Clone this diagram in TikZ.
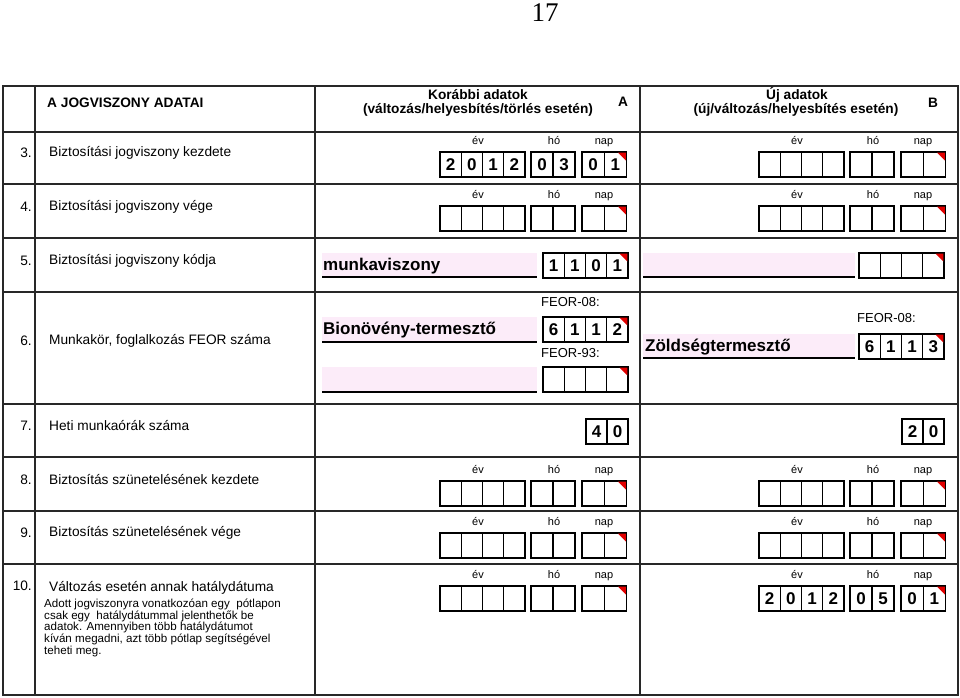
\documentclass[tikz,border=0pt]{standalone}
\usepackage{fontspec}
\setmainfont{Liberation Sans}
\newfontfamily\titleserif{Liberation Serif}
\definecolor{pinkfill}{RGB}{252,236,249}
\definecolor{gridc}{RGB}{40,40,40}
\definecolor{cornerred}{RGB}{225,0,0}
\tikzset{
 tablegrid/.style={draw=gridc, line width=1.6pt},
 cellline/.style={draw=black, line width=1.1pt},
 digit/.style={font=\fontsize{17}{17}\selectfont\bfseries, inner sep=0},
 lbltxt/.style={font=\fontsize{13.7}{14}\selectfont, inner sep=0, anchor=west},
 numtxt/.style={font=\fontsize{13.7}{14}\selectfont, inner sep=0, anchor=east},
 hdrtxt/.style={font=\fontsize{13.7}{14}\selectfont\bfseries, inner sep=0},
 smalltxt/.style={font=\fontsize{11}{11}\selectfont, inner sep=0, anchor=base},
 feortxt/.style={font=\fontsize{13}{13}\selectfont, inner sep=0, anchor=west},
 entrytxt/.style={font=\fontsize{17}{17}\selectfont\bfseries, inner sep=0, anchor=west},
 fieldpink/.style={fill=pinkfill, draw=none},
 fieldline/.style={draw=black, line width=1.5pt},
}
% #1 name prefix, #2 x, #3 top, #4 cell width, #5 digit list
\newcommand{\cellsrow}[5]{%
 \foreach \d [count=\i from 0] in {#5} {
   \draw[cellline] ({#2+\i*#4}, #3) rectangle ++(#4, 25);
   \node[digit] (#1-\i) at ({#2+\i*#4+#4/2}, #3+12.5) {\d};
 }}
% #1 x, #2 top, #3 width, #4 count
\newcommand{\emptycells}[4]{%
 \foreach \i in {1,...,#4} {
   \draw[cellline] ({#1+(\i-1)*#3}, #2) rectangle ++(#3, 25);
 }}
% #1 right x, #2 top y
\newcommand{\redcorner}[2]{\fill[cornerred] (#1-8.5,#2+0.6) -- (#1-0.6,#2+0.6) -- (#1-0.6,#2+8.5) -- cycle;}
% #1 name, #2 x0, #3 top
\newcommand{\datelabels}[3]{%
 \node[smalltxt] (#1-ev) at (#2+38, #3-7.5) {év};
 \node[smalltxt] (#1-ho) at (#2+114, #3-7.5) {hó};
 \node[smalltxt] (#1-nap) at (#2+164, #3-7.5) {nap};
}
\newcommand{\emptydate}[3]{%
 \datelabels{#1}{#2}{#3}
 \emptycells{#2}{#3}{21.25}{4}
 \emptycells{#2+91}{#3}{22}{2}
 \emptycells{#2+142}{#3}{22.25}{2}
 \redcorner{#2+186.5}{#3}
}
% #1 name #2 x0 #3 top #4 year #5 month #6 day
\newcommand{\fulldate}[6]{%
 \datelabels{#1}{#2}{#3}
 \cellsrow{#1y}{#2}{#3}{21.25}{#4}
 \cellsrow{#1m}{#2+91}{#3}{22}{#5}
 \cellsrow{#1d}{#2+142}{#3}{22.25}{#6}
 \redcorner{#2+186.5}{#3}
}
\begin{document}
\begin{tikzpicture}[x=1pt,y=-1pt]
\useasboundingbox (0,0) rectangle (960,697);
\fill[white] (0,0) rectangle (960,697);

% title
\node[font=\titleserif\fontsize{27}{27}\selectfont, inner sep=0] (title) at (545,13) {17};

% table grid
\foreach \yy in {132,184,238,292,404,457,511,564} {
  \draw[tablegrid] (3,\yy) -- (958,\yy);
}
\draw[tablegrid] (35,86) -- (35,695);
\draw[tablegrid] (315,86) -- (315,695);
\draw[tablegrid] (640,86) -- (640,695);
\draw[draw=gridc, line width=2.2pt] (3,86) rectangle (958,695);

% header
\node[hdrtxt, anchor=west] (h0) at (47,103) {A JOGVISZONY ADATAI};
\node[hdrtxt, anchor=base] (ha1) at (478,99.5) {Korábbi adatok};
\node[hdrtxt, anchor=base] (ha2) at (478,113) {(változás/helyesbítés/törlés esetén)};
\node[hdrtxt] (ha) at (623,102) {A};
\node[hdrtxt, anchor=base] (hb1) at (797,99.5) {Új adatok};
\node[hdrtxt, anchor=base] (hb2) at (796,113) {(új/változás/helyesbítés esetén)};
\node[hdrtxt] (hb) at (933,103) {B};

% row numbers and labels
\node[numtxt] (n3) at (32,153) {3.};
\node[lbltxt] (l3) at (49,153) {Biztosítási jogviszony kezdete};
\node[numtxt] (n4) at (32,207) {4.};
\node[lbltxt] (l4) at (49,207) {Biztosítási jogviszony vége};
\node[numtxt] (n5) at (32,261) {5.};
\node[lbltxt] (l5) at (49,261) {Biztosítási jogviszony kódja};
\node[numtxt] (n6) at (32,341) {6.};
\node[lbltxt] (l6) at (49,341) {Munkakör, foglalkozás FEOR száma};
\node[numtxt] (n7) at (32,426) {7.};
\node[lbltxt] (l7) at (49,426) {Heti munkaórák száma};
\node[numtxt] (n8) at (32,480) {8.};
\node[lbltxt] (l8) at (49,480) {Biztosítás szünetelésének kezdete};
\node[numtxt] (n9) at (32,533) {9.};
\node[lbltxt] (l9) at (49,533) {Biztosítás szünetelésének vége};
\node[numtxt] (n10) at (32,586) {10.};
\node[lbltxt] (l10) at (49,588) {Változás esetén annak hatálydátuma};
\node[anchor=north west, align=left, inner sep=0, font=\fontsize{11.6}{11.6}\selectfont] (p10) at (44,599)
 {Adott jogviszonyra vonatkozóan egy \ pótlapon\\
  csak egy \ hatálydátummal jelenthetők be\\
  adatok. Amennyiben több hatálydátumot\\
  kíván megadni, azt több pótlap segítségével\\
  teheti meg.};

% row 3
\fulldate{a3}{440}{152}{2,0,1,2}{0,3}{0,1}
\emptydate{b3}{759}{152}
% row 4
\emptydate{a4}{440}{206}
\emptydate{b4}{759}{206}

% row 5
\fill[fieldpink] (322,253) rectangle (537,277);
\draw[fieldline] (322,277) -- (537,277);
\node[entrytxt] (e5a) at (323,266) {munkaviszony};
\cellsrow{c5a}{543}{253}{21.25}{1,1,0,1}
\redcorner{628}{253}
\fill[fieldpink] (643,253) rectangle (855,277);
\draw[fieldline] (643,277) -- (855,277);
\emptycells{859}{253}{21.25}{4}
\redcorner{944}{253}

% row 6 A
\node[feortxt] (f6a1) at (541,302) {FEOR-08:};
\fill[fieldpink] (322,317) rectangle (537,342);
\draw[fieldline] (322,342) -- (537,342);
\node[entrytxt] (e6a) at (323,330) {Bionövény-termesztő};
\cellsrow{c6a}{543}{317}{21.25}{6,1,1,2}
\redcorner{628}{317}
\node[feortxt] (f6a2) at (541,353) {FEOR-93:};
\fill[fieldpink] (322,367) rectangle (537,392);
\draw[fieldline] (322,392) -- (537,392);
\emptycells{543}{367}{21.25}{4}
\redcorner{628}{367}
% row 6 B
\node[feortxt] (f6b) at (857,318) {FEOR-08:};
\fill[fieldpink] (643,334) rectangle (855,358);
\draw[fieldline] (643,358) -- (855,358);
\node[entrytxt] (e6b) at (645,347) {Zöldségtermesztő};
\cellsrow{c6b}{859}{334}{21.25}{6,1,1,3}
\redcorner{944}{334}

% row 7
\cellsrow{c7a}{586}{419}{21}{4,0}
\cellsrow{c7b}{902}{419}{21}{2,0}

% rows 8, 9
\emptydate{a8}{440}{481}
\emptydate{b8}{759}{481}
\emptydate{a9}{440}{533}
\emptydate{b9}{759}{533}
% row 10
\emptydate{a10}{440}{586}
\fulldate{b10}{759}{586}{2,0,1,2}{0,5}{0,1}
\end{tikzpicture}
\end{document}
